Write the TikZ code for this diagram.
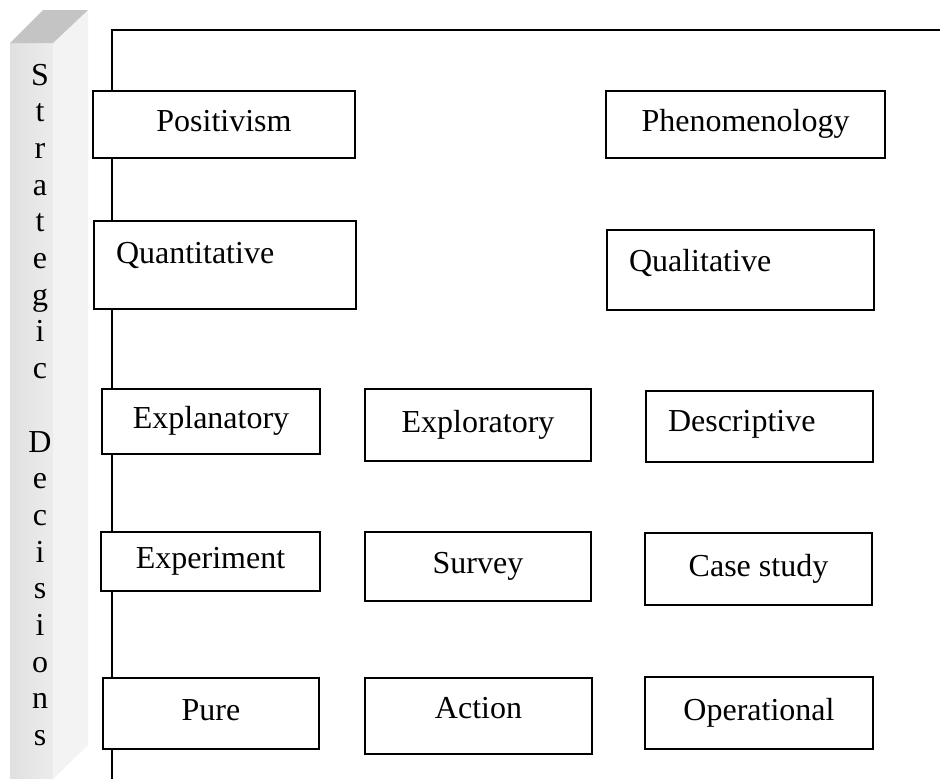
\documentclass[tikz,border=0pt]{standalone}
\usepackage{fontspec}
\setmainfont{Liberation Serif}
\usepackage{xcolor}
\usetikzlibrary{positioning}
\definecolor{BarFront}{HTML}{E0E0E0}
\definecolor{BarFrontLight}{HTML}{ECECEC}
\definecolor{BarSide}{HTML}{F3F3F3}
\definecolor{BarTop}{HTML}{C4C4C4}
\tikzset{
  choice/.style={draw, line width=2pt, fill=white, inner sep=0pt,
    text height=21pt, text depth=7pt, font=\fontsize{32}{38}\selectfont},
  leftchoice/.style={choice, anchor=north west, align=left, inner xsep=22pt},
  barletter/.style={anchor=base, inner sep=0pt, font=\fontsize{32}{38}\selectfont}
}

\begin{document}
\begin{tikzpicture}[x=1pt, y=-1pt]
  \useasboundingbox (0,0) rectangle (940,779);
  \fill[white] (0,0) rectangle (940,779);

  % the side bar
  \shade[left color=BarFront, right color=BarFrontLight] (10,43) rectangle (53,779);
  \fill[BarSide] (53,43) -- (88,10) -- (88,745) -- (53,779) -- cycle;
  \fill[BarTop] (10,43) -- (43,10) -- (88,10) -- (53,43) -- cycle;
  \foreach \ch [count=\i from 0] in {S,t,r,a,t,e,g,i,c,{},D,e,c,i,s,i,o,n,s}
    \node[barletter] (bar\i) at (40, 85+36.7*\i) {\ch};

  % frame
  \draw[line width=2pt] (112,779) -- (112,30) -- (940,30);

  \node[choice, minimum width=262pt, minimum height=67pt] (positivism) at (224,124.5) {Positivism};
  \node[choice, minimum width=279pt, minimum height=67pt] (phenomenology) at (745.5,124.5) {Phenomenology};

  \node[leftchoice, text width=218pt, text height=42pt, text depth=46pt] (quantitative) at (93,220) {Quantitative};
  \node[leftchoice, text width=223pt, text height=41pt, text depth=39pt] (qualitative) at (606,229) {Qualitative};

  \node[choice, minimum width=218pt, minimum height=65pt] (explanatory) at (211,421.5) {Explanatory};
  \node[choice, minimum width=226pt, minimum height=72pt] (exploratory) at (478,425) {Exploratory};
  \node[leftchoice, text width=183pt, text height=40pt, text depth=31pt] (descriptive) at (645,390) {Descriptive};

  \node[choice, minimum width=219pt, minimum height=59pt] (experiment) at (210.5,561.5) {Experiment};
  \node[choice, minimum width=226pt, minimum height=69pt] (survey) at (478,566.5) {Survey};
  \node[choice, minimum width=227pt, minimum height=72pt] (casestudy) at (758.5,569) {Case study};

  \node[choice, minimum width=216pt, minimum height=71pt] (pure) at (211,713.5) {Pure};
  \node[choice, minimum width=227pt, minimum height=76pt, text height=16pt, text depth=12pt] (action) at (478.5,716) {Action};
  \node[choice, minimum width=228pt, minimum height=72pt] (operational) at (759,713) {Operational};
\end{tikzpicture}
\end{document}
